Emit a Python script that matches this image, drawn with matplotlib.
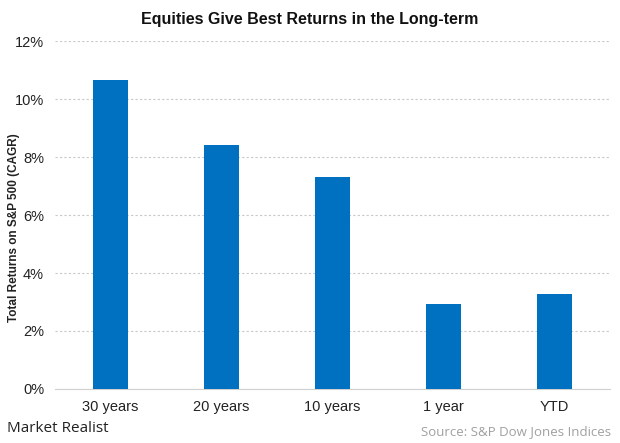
"""Equities give best returns in the long-term: bar chart."""

import matplotlib

matplotlib.use("Agg")
import matplotlib.pyplot as plt
from matplotlib.ticker import FuncFormatter

periods = ["30 years", "20 years", "10 years", "1 year", "YTD"]
returns = [10.66, 8.42, 7.33, 2.93, 3.28]

plt.rcParams["font.family"] = ["Liberation Sans", "DejaVu Sans"]

fig = plt.figure(figsize=(6.2, 4.43), dpi=100)
ax = fig.add_axes([0.089, 0.122, 0.895, 0.785])

ax.bar(range(len(periods)), returns, width=0.31, color="#0070C0", zorder=3)

ax.set_xlim(-0.5, len(periods) - 0.5)
ax.set_ylim(0, 12)
ax.set_yticks(range(0, 13, 2))
ax.yaxis.set_major_formatter(FuncFormatter(lambda v, _: f"{v:.0f}%"))
ax.set_xticks(range(len(periods)))
ax.set_xticklabels(periods)

ax.grid(axis="y", color="#c8c8c8", linestyle=(0, (2, 2)), linewidth=0.8, zorder=0)
for side in ("top", "right", "left"):
    ax.spines[side].set_visible(False)
ax.spines["bottom"].set_color("#d0d0d0")
ax.tick_params(axis="both", length=0, labelsize=10.5, colors="#222222")
ax.tick_params(axis="x", pad=8)
ax.tick_params(axis="y", pad=8)

ax.set_ylabel("Total Returns on S&P 500 (CAGR)", fontsize=8.5, fontweight="bold",
              color="#222222")
ax.yaxis.set_label_coords(-0.064, 0.463)

fig.text(0.5, 0.955, "Equities Give Best Returns in the Long-term", ha="center",
         va="center", fontsize=11.5, fontweight="bold", color="#111111")
fig.text(0.012, 0.033, "Market Realist", ha="left", va="center", fontsize=11,
         color="#222222", family=["Open Sans", "DejaVu Sans"])
fig.text(0.985, 0.025, "Source: S&P Dow Jones Indices", ha="right", va="center",
         fontsize=9.5, color="#a0a0a0", family=["Open Sans", "DejaVu Sans"])

fig.savefig("out.png", dpi=100)
